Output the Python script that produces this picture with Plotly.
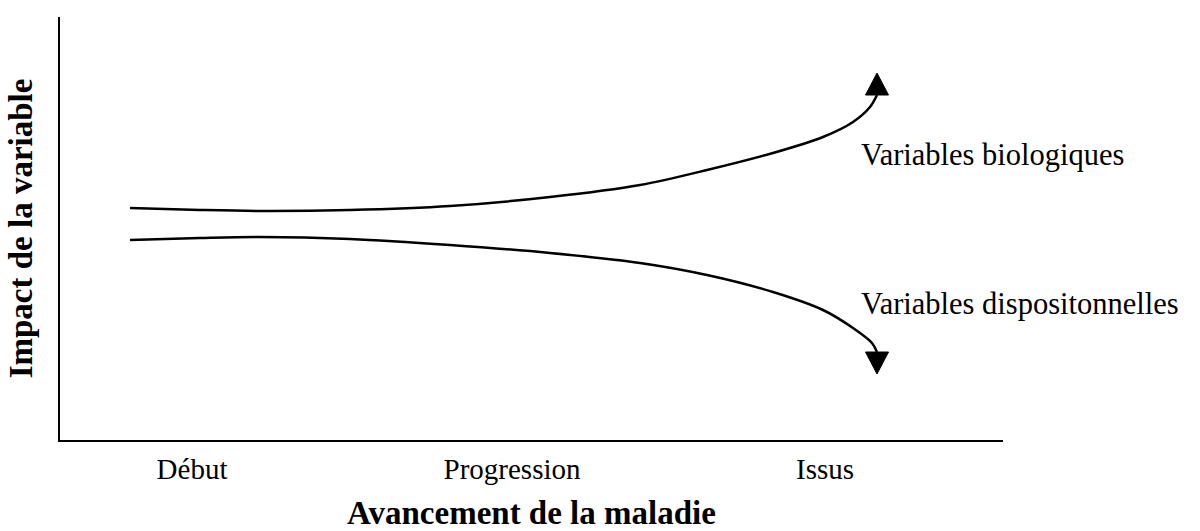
import plotly.graph_objects as go

# Chart units: x = disease progression (0..943), y = impact of the variable (0..423)
stage_labels = ["Début", "Progression", "Issus"]
stage_pos = [132, 452, 765]

bio_x = [70, 140, 200, 290, 390, 490, 580, 647, 713, 763, 793, 810, 817]
bio_y = [232, 230, 229, 230, 234, 243, 255, 270, 287, 303, 318, 333, 345]

disp_x = [70, 140, 200, 290, 390, 490, 580, 647, 713, 763, 793, 812, 817]
disp_y = [200, 202, 203, 201, 195, 187, 177, 165, 148, 130, 112, 97, 88]

series_names = ["Variables biologiques", "Variables dispositonnelles"]

FONT = "Liberation Serif"
LINE_W = 2.5
HEAD_HALF_W = 11.5
HEAD_LEN = 22

fig = go.Figure()

for name, xs, ys, up in [(series_names[0], bio_x, bio_y, True),
                         (series_names[1], disp_x, disp_y, False)]:
    fig.add_trace(go.Scatter(x=xs, y=ys, mode="lines", name=name,
                             line=dict(color="black", width=LINE_W, shape="spline", smoothing=0.9),
                             hoverinfo="skip", showlegend=False))
    ex, ey = xs[-1], ys[-1]
    tip = ey + HEAD_LEN if up else ey - HEAD_LEN
    fig.add_trace(go.Scatter(x=[ex - HEAD_HALF_W, ex + HEAD_HALF_W, ex, ex - HEAD_HALF_W],
                             y=[ey, ey, tip, ey], mode="lines", fill="toself",
                             fillcolor="black", line=dict(color="black", width=1),
                             hoverinfo="skip", showlegend=False))

fig.add_annotation(x=799, y=285, text=series_names[0], showarrow=False,
                   xanchor="left", yanchor="middle",
                   font=dict(family=FONT, size=30.5, color="black"))
fig.add_annotation(x=799, y=136, text=series_names[1], showarrow=False,
                   xanchor="left", yanchor="middle",
                   font=dict(family=FONT, size=30.5, color="black"))

fig.update_layout(
    width=1200, height=531,
    margin=dict(l=60, r=197, t=17, b=91),
    paper_bgcolor="white", plot_bgcolor="white",
    xaxis=dict(range=[0, 943], showline=True, linecolor="black", linewidth=2,
               showgrid=False, zeroline=False, ticks="",
               tickvals=stage_pos, ticktext=stage_labels,
               tickfont=dict(family=FONT, size=29, color="black"),
               ticklabelstandoff=2,
               title=dict(text="Avancement de la maladie", standoff=28,
                          font=dict(family=FONT, size=33, color="black", weight="bold")),
               automargin=False, fixedrange=True),
    yaxis=dict(range=[0, 423], showline=True, linecolor="black", linewidth=2,
               showgrid=False, zeroline=False, ticks="", showticklabels=False,
               title=dict(text="Impact de la variable", standoff=15,
                          font=dict(family=FONT, size=33, color="black", weight="bold")),
               automargin=False, fixedrange=True),
)

fig.write_html("out.html", config={"displayModeBar": False},
               post_script="document.body.style.margin='0';document.body.style.overflow='hidden';")
